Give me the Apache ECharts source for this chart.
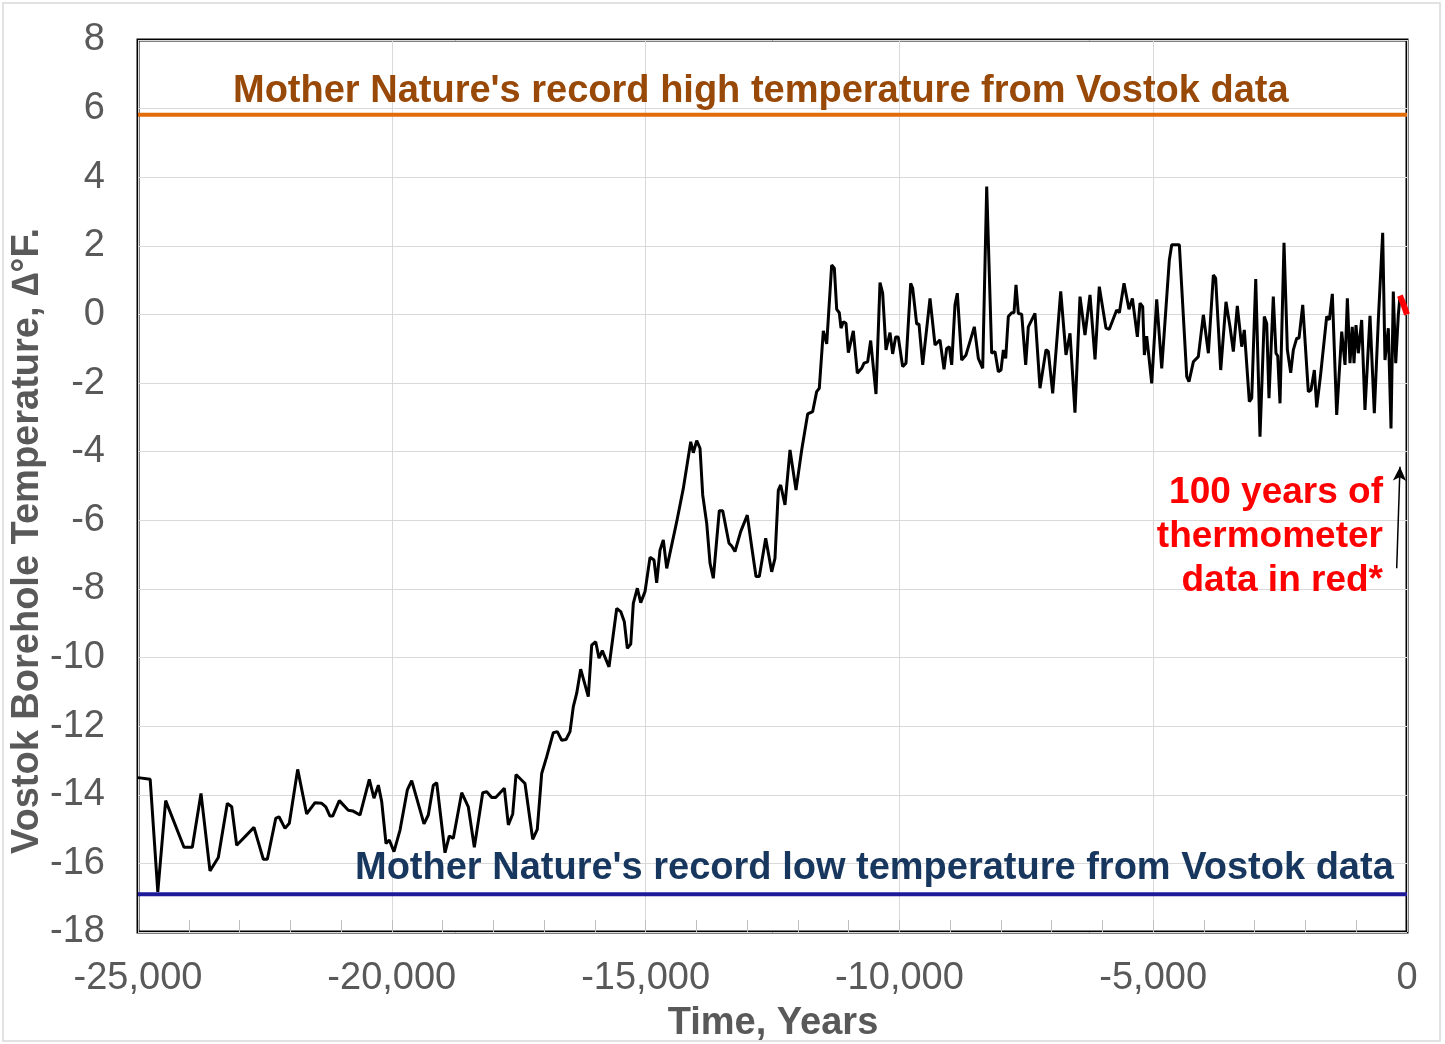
<!DOCTYPE html>
<html>
<head>
<meta charset="utf-8">
<script src="https://cdn.jsdelivr.net/npm/echarts@6/dist/echarts.min.js"></script>
<style>
  html, body { margin: 0; padding: 0; background: #fff; }
  #box { width: 1445px; height: 1044px; }
</style>
</head>
<body>
<div id="box"></div>
<script>
// years before present
let years = [
  -25000, -24760, -24610, -24455, -24094, -23930, -23759, -23582, -23418, -23240,
  -23154, -23056, -22715, -22531, -22452, -22287, -22222, -22104, -22019, -21854,
  -21677, -21513, -21381, -21300, -21218, -21165, -21034, -20857, -20770, -20627,
  -20443, -20351, -20265, -20199, -20114, -20049, -19957, -19838, -19694, -19608,
  -19366, -19281, -19182, -19115, -18952, -18867, -18788, -18623, -18493, -18374,
  -18209, -18130, -18032, -17953, -17783, -17704, -17618, -17553, -17376, -17224,
  -17134, -17047, -16948, -16818, -16739, -16653, -16568, -16489, -16424, -16357,
  -16279, -16129, -16062, -15983, -15918, -15853, -15721, -15569, -15490, -15419,
  -15360, -15293, -15242, -15163, -15096, -15012, -14913, -14834, -14782, -14716,
  -14651, -14584, -14387, -14257, -14111, -14060, -13993, -13928, -13875, -13796,
  -13731, -13666, -13548, -13481, -13357, -13304, -13239, -13127, -12997, -12910,
  -12825, -12760, -12634, -12516, -12451, -12385, -12339, -12254, -12155, -12037,
  -11925, -11807, -11708, -11630, -11578, -11499, -11432, -11334, -11282, -11235,
  -11184, -11150, -11105, -11052, -11006, -10908, -10829, -10743, -10697, -10625,
  -10566, -10461, -10382, -10330, -10264, -10185, -10133, -10074, -10022, -9936,
  -9870, -9778, -9738, -9659, -9614, -9541, -9397, -9298, -9201, -9121,
  -9069, -9017, -8970, -8905, -8859, -8773, -8688, -8524, -8445, -8359,
  -8280, -8182, -8117, -8051, -7998, -7952, -7906, -7854, -7787, -7742,
  -7703, -7657, -7591, -7512, -7460, -7329, -7230, -7112, -7066, -6980,
  -6822, -6783, -6718, -6639, -6541, -6442, -6344, -6245, -6146, -6062,
  -5930, -5865, -5719, -5667, -5575, -5536, -5477, -5410, -5312, -5260,
  -5207, -5174, -5128, -5029, -4931, -4832, -4682, -4635, -4485, -4339,
  -4295, -4209, -4111, -4012, -3913, -3815, -3770, -3670, -3631, -3566,
  -3487, -3421, -3343, -3256, -3205, -3106, -3059, -2980, -2896, -2811,
  -2764, -2719, -2634, -2581, -2547, -2502, -2423, -2357, -2291, -2239,
  -2172, -2127, -2054, -1944, -1891, -1825, -1779, -1700, -1661, -1582,
  -1530, -1471, -1385, -1286, -1221, -1175, -1123, -1078, -1044, -1005,
  -959, -893, -828, -729, -644, -565, -479, -434, -368, -315,
  -270, -222, -171, -140
];
// Vostok borehole temperature, delta degrees F
let temps = [
  -13.5, -13.55, -16.83, -14.17, -15.53, -15.53, -13.96, -16.22, -15.83, -14.25,
  -14.35, -15.47, -14.95, -15.88, -15.88, -14.69, -14.64, -14.98, -14.83, -13.26,
  -14.56, -14.23, -14.25, -14.35, -14.62, -14.62, -14.17, -14.45, -14.47, -14.59,
  -13.55, -14.1, -13.72, -14.2, -15.42, -15.32, -15.66, -15.03, -13.86, -13.59,
  -14.85, -14.59, -13.72, -13.65, -15.69, -15.2, -15.27, -13.94, -14.35, -15.53,
  -13.94, -13.91, -14.08, -14.08, -13.81, -14.88, -14.56, -13.41, -13.67, -15.3,
  -15.01, -13.38, -12.89, -12.19, -12.16, -12.41, -12.39, -12.16, -11.43, -11.04,
  -10.34, -11.14, -9.64, -9.54, -10.02, -9.8, -10.27, -8.57, -8.66, -8.96,
  -9.73, -9.61, -8.42, -7.98, -8.4, -8.08, -7.08, -7.16, -7.82, -6.87,
  -6.57, -7.4, -6.04, -5.07, -3.71, -4.03, -3.68, -3.9, -5.26, -6.09,
  -7.25, -7.69, -5.72, -5.72, -6.67, -6.75, -6.91, -6.33, -5.85, -6.77,
  -7.64, -7.64, -6.52, -7.5, -7.11, -5.12, -4.97, -5.55, -3.95, -5.12,
  -3.95, -2.9, -2.83, -2.25, -2.15, -0.48, -0.86, 1.44, 1.35, 0.15,
  0.05, -0.4, -0.21, -0.26, -1.11, -0.48, -1.71, -1.57, -1.42, -1.38,
  -0.76, -2.32, 0.93, 0.62, -1.03, -0.53, -1.15, -0.66, -0.66, -1.52,
  -1.42, 0.91, 0.76, -0.28, -0.28, -1.47, 0.47, -0.89, -0.74, -1.6,
  -0.99, -0.94, -1.47, 0.28, 0.62, -1.33, -1.18, -0.36, -1.28, -1.57,
  3.73, -1.13, -1.08, -1.67, -1.62, -1.03, -1.28, -0.06, 0.05, 0.05,
  0.86, 0.03, 0.01, -1.47, -0.36, 0.03, -2.15, -1.03, -1.08, -2.3,
  0.67, 0.67, -1.18, -0.55, -2.86, 0.52, -0.6, 0.57, -1.31, 0.81,
  -0.4, -0.43, 0.13, 0.05, 0.91, 0.91, 0.15, 0.47, -0.65, 0.33,
  0.23, -1.18, -0.63, -2.01, 0.44, -1.57, 1.59, 2.03, 2.03, -1.81,
  -1.96, -1.38, -1.23, -0.01, -1.13, 1.15, 1.06, -1.62, -1.62, 0.37,
  -0.36, -1.08, 0.25, -0.94, -0.45, -2.54, -2.44, 1.03, -3.56, -0.06,
  -0.26, -2.44, 0.52, -1.13, -1.21, -2.59, 2.09, -1.03, -1.7, -1.03,
  -0.69, -0.69, 0.28, -2.25, -2.2, -1.62, -2.71, -1.73, -1.73, -0.06,
  -0.16, 0.6, -2.93, -0.5, -1.47, 0.47, -1.42, -0.36, -1.42, -0.31,
  -1.13, -0.16, -2.78, -0.04, -2.88, -0.16, 2.38, -1.33, -0.4, -3.32,
  0.67, -1.42, -0.01, 0.5
];
// thermometer record (red)
let thermoYears = [-140, -70, 0];
let thermoTemps = [0.55, 0.3, 0.0];
// record high / low from Vostok data
let recordHigh = 5.82;
let recordLow = -16.9;
let xRange = [-25000, 0];
// arrow from the note up to the thermometer data
let arrowFrom = [-203, -7.4];
let arrowTo = [-138, -4.44];

let font = '"Liberation Sans", Arial, sans-serif';
let chart = echarts.init(document.getElementById('box'), null, { renderer: 'canvas' });

let zip = (a, b) => a.map((v, i) => [v, b[i]]);

let option = {
  animation: false,
  backgroundColor: '#fff',
  grid: {
    left: 138, right: 38, top: 40, bottom: 112,
    show: true, borderColor: '#000', borderWidth: 3
  },
  xAxis: {
    type: 'value',
    min: xRange[0], max: xRange[1], interval: 5000,
    axisLine: { show: false, onZero: false },
    axisTick: { show: true, inside: true, length: 12, lineStyle: { color: '#BFBFBF', width: 1 } },
    minorTick: { show: true, splitNumber: 5, length: 12, lineStyle: { color: '#BFBFBF', width: 1 } },
    splitLine: { show: true, lineStyle: { color: '#D9D9D9', width: 1 } },
    axisLabel: {
      margin: 28, color: '#595959', fontSize: 38, fontFamily: font,
      formatter: v => v.toLocaleString('en-US')
    }
  },
  yAxis: {
    type: 'value',
    min: -18, max: 8, interval: 2,
    axisLine: { show: false },
    axisTick: { show: false },
    splitLine: { show: true, lineStyle: { color: '#D9D9D9', width: 1 } },
    axisLabel: { margin: 33, color: '#595959', fontSize: 38, fontFamily: font }
  },
  series: [
    {
      name: 'Vostok',
      type: 'line',
      data: zip(years, temps),
      symbol: 'none',
      lineStyle: { color: '#000', width: 3 },
      z: 3,
      markLine: {
        silent: true,
        symbol: ['none', 'arrow'],
        symbolSize: [10, 14],
        label: { show: false },
        lineStyle: { color: '#000', width: 1.5, type: 'solid' },
        data: [[{ coord: arrowFrom }, { coord: arrowTo }]]
      }
    },
    {
      name: 'Thermometer',
      type: 'line',
      data: zip(thermoYears, thermoTemps),
      symbol: 'none',
      lineStyle: { color: '#FF0000', width: 6 },
      z: 4
    },
    {
      name: 'High',
      type: 'line',
      data: zip(xRange, [recordHigh, recordHigh]),
      symbol: 'none',
      lineStyle: { color: '#E36C0A', width: 4 },
      z: 2
    },
    {
      name: 'Low',
      type: 'line',
      data: zip(xRange, [recordLow, recordLow]),
      symbol: 'none',
      lineStyle: { color: '#1F1A99', width: 4 },
      z: 2
    }
  ],
  graphic: [
    {
      type: 'rect', silent: true, z: -10,
      shape: { x: 3, y: 3, width: 1437, height: 1038 },
      style: { fill: 'none', stroke: '#D9D9D9', lineWidth: 1.5 }
    },
    {
      type: 'text', x: 233, y: 92, z: 10,
      style: {
        text: "Mother Nature's record high temperature from Vostok data",
        font: 'bold 38px ' + font, fill: '#984807', align: 'left', verticalAlign: 'middle'
      }
    },
    {
      type: 'text', x: 355, y: 869, z: 10,
      style: {
        text: "Mother Nature's record low temperature from Vostok data",
        font: 'bold 38px ' + font, fill: '#17375E', align: 'left', verticalAlign: 'middle'
      }
    },
    {
      type: 'text', x: 1383, y: 537, z: 10,
      style: {
        text: '100 years of\nthermometer\ndata in red*',
        font: 'bold 37px ' + font, fill: '#FF0000', align: 'right', verticalAlign: 'middle',
        lineHeight: 44
      }
    },
    {
      type: 'text', x: 28, y: 541, rotation: Math.PI / 2, z: 10,
      style: {
        text: 'Vostok Borehole Temperature, \u2206\u00b0F.',
        font: 'bold 38px ' + font, fill: '#595959', align: 'center', verticalAlign: 'middle'
      }
    },
    {
      type: 'text', x: 773, y: 1024, z: 10,
      style: {
        text: 'Time, Years',
        font: 'bold 38px ' + font, fill: '#595959', align: 'center', verticalAlign: 'middle'
      }
    }
  ]
};

chart.setOption(option);
</script>
</body>
</html>
